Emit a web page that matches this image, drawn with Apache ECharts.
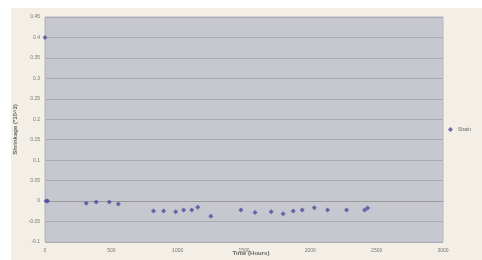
<!DOCTYPE html>
<html lang="en">
<head>
<meta charset="UTF-8">
<title>Shrinkage</title>
<style>
  html, body { margin: 0; padding: 0; background: #ffffff; }
</style>
</head>
<body>
<div id="main" style="width: 482px;height:260px;"></div>
<script src="https://cdn.jsdelivr.net/npm/echarts@6/dist/echarts.min.js"></script>
<script type="text/javascript">
  // values
  var hours = [0, 8, 20, 311, 386, 485, 553, 818, 894, 985, 1045, 1106, 1152, 1250,
               1477, 1583, 1705, 1795, 1871, 1939, 2030, 2130, 2273, 2409, 2432];
  var strain = [0.4, 0, 0, -0.005, -0.002, -0.002, -0.007, -0.024, -0.024, -0.026, -0.022, -0.022, -0.015, -0.037,
                -0.022, -0.028, -0.026, -0.031, -0.024, -0.022, -0.016, -0.022, -0.022, -0.022, -0.017];
  var xTicks = [0, 500, 1000, 1500, 2000, 2500, 3000];

  var points = [];
  for (var i = 0; i < hours.length; i++) {
    points.push([hours[i], strain[i]]);
  }

  var myChart = echarts.init(document.getElementById('main'));
  var option = {
    backgroundColor: '#ffffff',
    animation: false,
    graphic: [{
      type: 'rect',
      z: -10,
      shape: { x: 11, y: 8, width: 471, height: 252 },
      style: { fill: '#f3eee6' }
    }],
    // x axis sits on zero, so its title goes in a title box under the plot
    title: {
      text: 'Time (Hours)',
      left: 246,
      top: 245,
      textAlign: 'center',
      textStyle: { fontSize: 6, color: '#666', fontWeight: 'bold' }
    },
    grid: {
      left: 45, right: 39, top: 17, bottom: 18,
      outerBoundsMode: 'none',
      containLabel: false,
      show: true,
      backgroundColor: '#c7c7cf',
      borderColor: '#b9b9c0',
      borderWidth: 1
    },
    legend: {
      right: 6, top: 122,
      itemWidth: 5, itemHeight: 5,
      itemGap: 2,
      textStyle: { fontSize: 5, color: '#666' },
      data: [{ name: 'Strain', icon: 'diamond' }]
    },
    xAxis: {
      type: 'value',
      min: 0, max: 3000, interval: 500,
      axisLine: { onZero: true, onZeroAxisIndex: 0, lineStyle: { color: '#999', width: 1 } },
      axisTick: { show: false },
      splitLine: { show: false },
      axisLabel: {
        fontSize: 5, color: '#777', margin: 6,
        formatter: function (v) { return xTicks.indexOf(v) >= 0 ? String(v) : ''; }
      }
    },
    yAxis: {
      type: 'value',
      min: -0.1, max: 0.45, interval: 0.05,
      name: 'Shrinkage (*10^3)',
      nameLocation: 'middle',
      nameGap: 27,
      nameMoveOverlap: false,
      nameTextStyle: { fontSize: 6, color: '#666', fontWeight: 'bold' },
      axisLine: { show: true, lineStyle: { color: '#b9b9c0' } },
      axisTick: { show: false },
      splitLine: { lineStyle: { color: '#a9a9b1', width: 1 } },
      axisLabel: {
        fontSize: 5, color: '#777', margin: 5,
        formatter: function (v) { return String(Math.round(v * 100) / 100); }
      }
    },
    series: [{
      name: 'Strain',
      type: 'scatter',
      symbol: 'diamond',
      symbolSize: 5,
      itemStyle: { color: '#4b4b9c' },
      data: points
    }]
  };
  myChart.setOption(option);
</script>
</body>
</html>
